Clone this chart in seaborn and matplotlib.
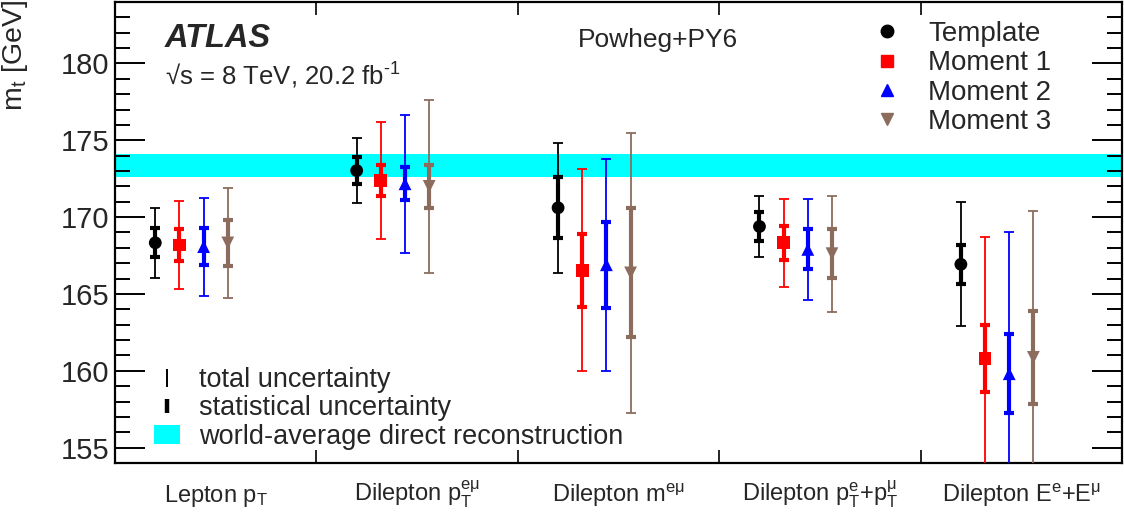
import matplotlib
matplotlib.use('Agg')
import matplotlib.pyplot as plt
from matplotlib.lines import Line2D
from matplotlib.patches import Patch
from matplotlib.ticker import MultipleLocator
import seaborn as sns
import pandas as pd

# Data
observables = ['Lepton pT', 'Dilepton pT', 'Dilepton m', 'Dilepton pT sum', 'Dilepton E sum']
tick_labels = [r'Lepton $\mathregular{p_{T}}$',
               r'Dilepton $\mathregular{p_{T}^{eμ}}$',
               r'Dilepton $\mathregular{m^{eμ}}$',
               r'Dilepton $\mathregular{p_{T}^{e}}$+$\mathregular{p_{T}^{μ}}$',
               r'Dilepton $\mathregular{E^{e}}$+$\mathregular{E^{μ}}$']
methods = ['Template', 'Moment 1', 'Moment 2', 'Moment 3']

mass_template = [168.33, 173.03, 170.61, 169.39, 166.93]
mass_moment1 = [168.19, 172.38, 166.55, 168.33, 160.78]
mass_moment2 = [168.08, 172.17, 166.90, 167.90, 159.81]
mass_moment3 = [168.32, 172.00, 166.37, 167.62, 160.87]

stat_template = [0.95, 0.89, 1.98, 0.94, 1.28]
stat_moment1 = [1.05, 1.02, 2.38, 1.12, 2.18]
stat_moment2 = [1.20, 1.08, 2.79, 1.30, 2.58]
stat_moment3 = [1.48, 1.38, 4.20, 1.60, 3.03]

total_template = [2.29, 2.09, 4.24, 1.96, 4.03]
total_moment1 = [2.89, 3.80, 6.55, 2.88, 7.94]
total_moment2 = [3.18, 4.48, 6.91, 3.30, 9.25]
total_moment3 = [3.55, 5.63, 9.13, 3.77, 9.52]

world_avg = 173.34
world_avg_err = 0.76

# Styles
colors = {'Template': 'black', 'Moment 1': '#ff0000', 'Moment 2': '#0000ff', 'Moment 3': '#8c6d5d'}
markers = {'Template': 'o', 'Moment 1': 's', 'Moment 2': '^', 'Moment 3': 'v'}

masses = [mass_template, mass_moment1, mass_moment2, mass_moment3]
stats = [stat_template, stat_moment1, stat_moment2, stat_moment3]
totals = [total_template, total_moment1, total_moment2, total_moment3]

rows = []
for i, m in enumerate(methods):
    for j, obs in enumerate(observables):
        rows.append({'method': m, 'obs': obs,
                     'x': j + 0.2 + 0.12 * i,
                     'mass': masses[i][j], 'stat': stats[i][j], 'total': totals[i][j]})
df = pd.DataFrame(rows)

sns.set_theme(style='ticks')
plt.rcParams['font.family'] = ['Liberation Sans', 'DejaVu Sans']
plt.rcParams['mathtext.fontset'] = 'custom'
plt.rcParams['mathtext.rm'] = 'Liberation Sans'
plt.rcParams['mathtext.it'] = 'Liberation Sans'

fig = plt.figure(figsize=(11.24, 5.18), dpi=100)
W, H = 1124, 518
ax = fig.add_axes([115 / W, (H - 463) / H, 1007 / W, 461 / H])

# world average band
ax.axhspan(world_avg - world_avg_err, world_avg + world_avg_err, color='#00ffff', lw=0, zorder=0)

# error bars: total (thin) and statistical (thick)
for m in methods:
    d = df[df['method'] == m]
    ax.errorbar(d['x'], d['mass'], yerr=d['total'], fmt='none', ecolor=colors[m],
                elinewidth=1.3, capsize=3.3, capthick=1.3, zorder=3)
    ax.errorbar(d['x'], d['mass'], yerr=d['stat'], fmt='none', ecolor=colors[m],
                elinewidth=3, capsize=3.3, capthick=3, zorder=4)

sns.scatterplot(data=df, x='x', y='mass', hue='method', style='method',
                palette=colors, markers=markers, s=85, edgecolor='none',
                legend=False, zorder=5, ax=ax)

ax.set_xlim(0, 5)
ax.set_ylim(154, 184)
ax.set_xlabel('')
ax.set_ylabel(r'$\mathregular{m_{t}}$ [GeV]', fontsize=20.5, loc='top')
ax.yaxis.set_label_coords(-0.084, 1.004)

ax.yaxis.set_major_locator(MultipleLocator(5))
ax.yaxis.set_minor_locator(MultipleLocator(1))
ax.set_yticks([155, 160, 165, 170, 175, 180])
ax.tick_params(axis='y', which='major', direction='in', length=21.6, width=1.4,
               labelsize=21, pad=4, left=True, right=True, color='black')
ax.tick_params(axis='y', which='minor', direction='in', length=10.8, width=1.4,
               left=True, right=True, color='black')

ax.set_xticks([1, 2, 3, 4])
ax.set_xticklabels([])
ax.set_xticks([j + 0.5 for j in range(5)], tick_labels, minor=True)
ax.tick_params(axis='x', which='major', direction='in', length=9.4, width=1.2,
               top=True, bottom=True, color='black')
ax.tick_params(axis='x', which='minor', length=0, labelsize=17, pad=28)
for lab in ax.get_xticklabels(minor=True):
    lab.set_verticalalignment('baseline')

for s in ax.spines.values():
    s.set_linewidth(1.6)
    s.set_color('black')
ax.grid(False)

# annotations
fig.text(165 / W, 1 - 47 / H, 'ATLAS', fontsize=23.5, fontweight='bold', fontstyle='italic')
fig.text(165 / W, 1 - 85 / H, '√s = 8 TeV, 20.2 fb$^{\\mathregular{‐1}}$', fontsize=18.5)
fig.text(578 / W, 1 - 47 / H, 'Powheg+PY6', fontsize=19)

handles = [Line2D([], [], ls='none', marker=markers[m], color=colors[m], markersize=9) for m in methods]
leg1 = ax.legend(handles, methods, loc='upper left', bbox_to_anchor=(870 / W, 1 - 21 / H),
                 bbox_transform=fig.transFigure, frameon=False, fontsize=20,
                 handlelength=1.2, handletextpad=0.9, labelspacing=0.12, borderpad=0,
                 borderaxespad=0)
ax.add_artist(leg1)

unc_handles = [Line2D([], [], ls='none', marker='|', color='black', markersize=13, mew=1.4),
               Line2D([], [], ls='none', marker='|', color='black', markersize=10, mew=3.2),
               Patch(facecolor='#00ffff', edgecolor='none')]
unc_labels = ['total uncertainty', 'statistical uncertainty', 'world-average direct reconstruction']
ax.legend(unc_handles, unc_labels, loc='upper left', bbox_to_anchor=(154 / W, 1 - 367 / H),
          bbox_transform=fig.transFigure, frameon=False, fontsize=19.5,
          handlelength=0.96, handleheight=0.7, handletextpad=0.7, labelspacing=0.09,
          borderpad=0, borderaxespad=0)

fig.savefig('out.png', dpi=100)
